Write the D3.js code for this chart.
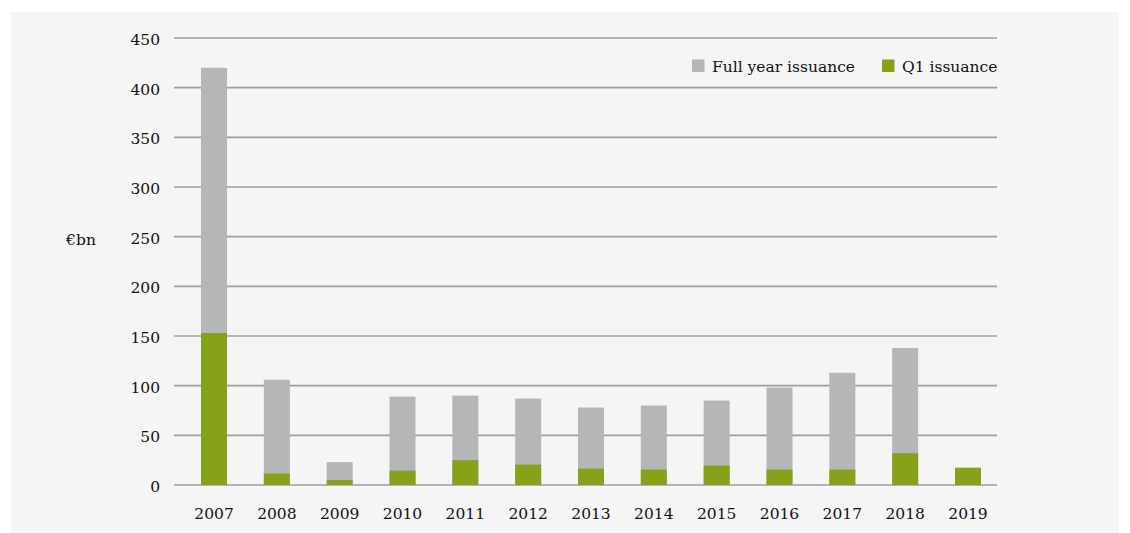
<!DOCTYPE html>
<html>
<head>
<meta charset="utf-8">
<script src="https://cdn.jsdelivr.net/npm/d3@7"></script>
<style>
  html, body { margin: 0; padding: 0; background: #ffffff; }
  svg { display: block; }
  text { font-family: "DejaVu Serif", "Liberation Serif", serif; fill: #111; }
</style>
</head>
<body>
<svg id="chart" width="1130" height="533"></svg>
<script>
const years = ["2007","2008","2009","2010","2011","2012","2013","2014","2015","2016","2017","2018","2019"];
const fullYear = [420, 106, 23, 89, 90, 87, 78, 80, 85, 98, 113, 138, null];
const q1 = [153, 11.5, 5, 14.5, 25, 20.5, 16.5, 15.5, 19.5, 15.5, 15.5, 32, 17.5];
const yTicks = [0, 50, 100, 150, 200, 250, 300, 350, 400, 450];
const seriesNames = ["Full year issuance", "Q1 issuance"];
const colors = ["#b5b6b8", "#86a218"];
const FS = 15.5;

const svg = d3.select("#chart");
svg.append("rect").attr("x", 11).attr("y", 12).attr("width", 1108).attr("height", 521).attr("fill", "#f5f5f5");

const y = d3.scaleLinear().domain([0, 450]).range([485, 38]);
const x = d3.scaleBand().domain(years).range([182.6, 999.4]).paddingInner(0.586).paddingOuter(0.293);

const gridL = 174, gridR = 997;
svg.append("g").selectAll("line").data(yTicks).join("line")
  .attr("x1", gridL).attr("x2", gridR)
  .attr("y1", d => y(d)).attr("y2", d => y(d))
  .attr("stroke", "#9d9da3").attr("stroke-width", 1.6);

const yAxis = d3.axisLeft(y).tickValues(yTicks).tickSize(0).tickPadding(0);
const gy = svg.append("g").attr("transform", `translate(160,1.5)`).call(yAxis);
gy.select(".domain").remove();
gy.selectAll("text").attr("font-size", FS).style("font-family", '"DejaVu Serif", serif').attr("fill", "#111");

const bw = 26;
svg.append("g").selectAll("rect").data(years.map((yr, i) => ({yr, v: fullYear[i]})).filter(d => d.v != null)).join("rect")
  .attr("x", d => x(d.yr) + x.bandwidth() / 2 - bw / 2)
  .attr("width", bw)
  .attr("y", d => y(d.v))
  .attr("height", d => y(0) - y(d.v))
  .attr("fill", colors[0]);
svg.append("g").selectAll("rect").data(years.map((yr, i) => ({yr, v: q1[i]}))).join("rect")
  .attr("x", d => x(d.yr) + x.bandwidth() / 2 - bw / 2)
  .attr("width", bw)
  .attr("y", d => y(d.v))
  .attr("height", d => y(0) - y(d.v))
  .attr("fill", colors[1]);

const xAxis = d3.axisBottom(x).tickSize(0).tickPadding(0);
const gx = svg.append("g").attr("transform", "translate(0,519)").call(xAxis);
gx.select(".domain").remove();
gx.selectAll("text").attr("dy", 0).attr("font-size", FS).style("font-family", '"DejaVu Serif", serif').attr("fill", "#111");

svg.append("text").attr("x", 81).attr("y", 245).attr("text-anchor", "middle").attr("font-size", FS).text("€bn");

const legendX = [692, 882];
seriesNames.forEach((name, i) => {
  svg.append("rect").attr("x", legendX[i]).attr("y", 59.5).attr("width", 12.5).attr("height", 12.5).attr("fill", colors[i]);
  svg.append("text").attr("x", legendX[i] + 20).attr("y", 72).attr("font-size", FS).text(name);
});
</script>
</body>
</html>
